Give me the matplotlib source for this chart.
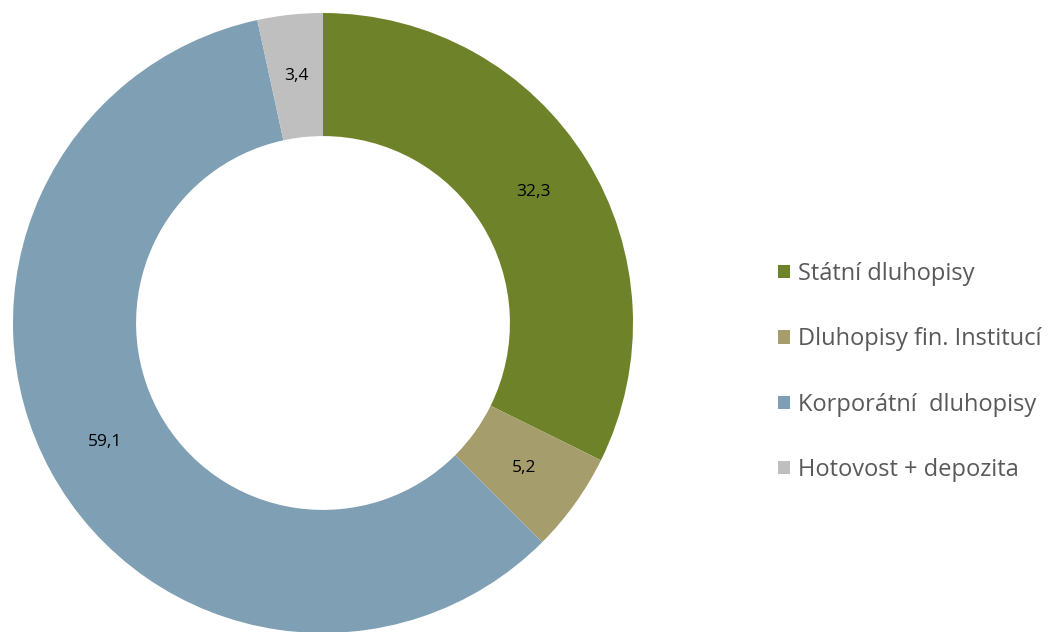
import matplotlib
matplotlib.use('Agg')
import matplotlib.pyplot as plt
import numpy as np

plt.rcParams['font.family'] = ['Open Sans', 'DejaVu Sans']

labels = ['Státní dluhopisy', 'Dluhopisy fin. Institucí',
          'Korporátní  dluhopisy', 'Hotovost + depozita']
values = [32.3, 5.2, 59.1, 3.4]
colors = ['#6E8229', '#A59D6C', '#7F9FB4', '#BFBFBF']

fig = plt.figure(figsize=(10.48, 6.32), dpi=100)
# donut axes, centre (323, 323) px, radius 310 px
ax = fig.add_axes([13 / 1048, (632 - 323 - 310) / 632, 620 / 1048, 620 / 632])
wedges, texts = ax.pie(values, colors=colors, startangle=90, counterclock=False,
                       radius=1, wedgeprops=dict(width=0.397, linewidth=0))
for w, v in zip(wedges, values):
    ang = np.deg2rad((w.theta1 + w.theta2) / 2)
    r = 0.8
    ax.text(r * np.cos(ang), r * np.sin(ang), str(v).replace('.', ','),
            ha='center', va='center', fontsize=12.5, color='black')
ax.set_xlim(-1, 1)
ax.set_ylim(-1, 1)
ax.set_aspect('equal')
ax.axis('off')

leg = fig.legend(wedges, labels, loc='center left', bbox_to_anchor=(778 / 1048, 1 - 372 / 632),
                 frameon=False, fontsize=17, handlelength=0.5, handleheight=0.5,
                 handletextpad=0.33, labelspacing=1.75, labelcolor='#595959',
                 borderaxespad=0, borderpad=0)
plt.savefig('out.png', dpi=100)
